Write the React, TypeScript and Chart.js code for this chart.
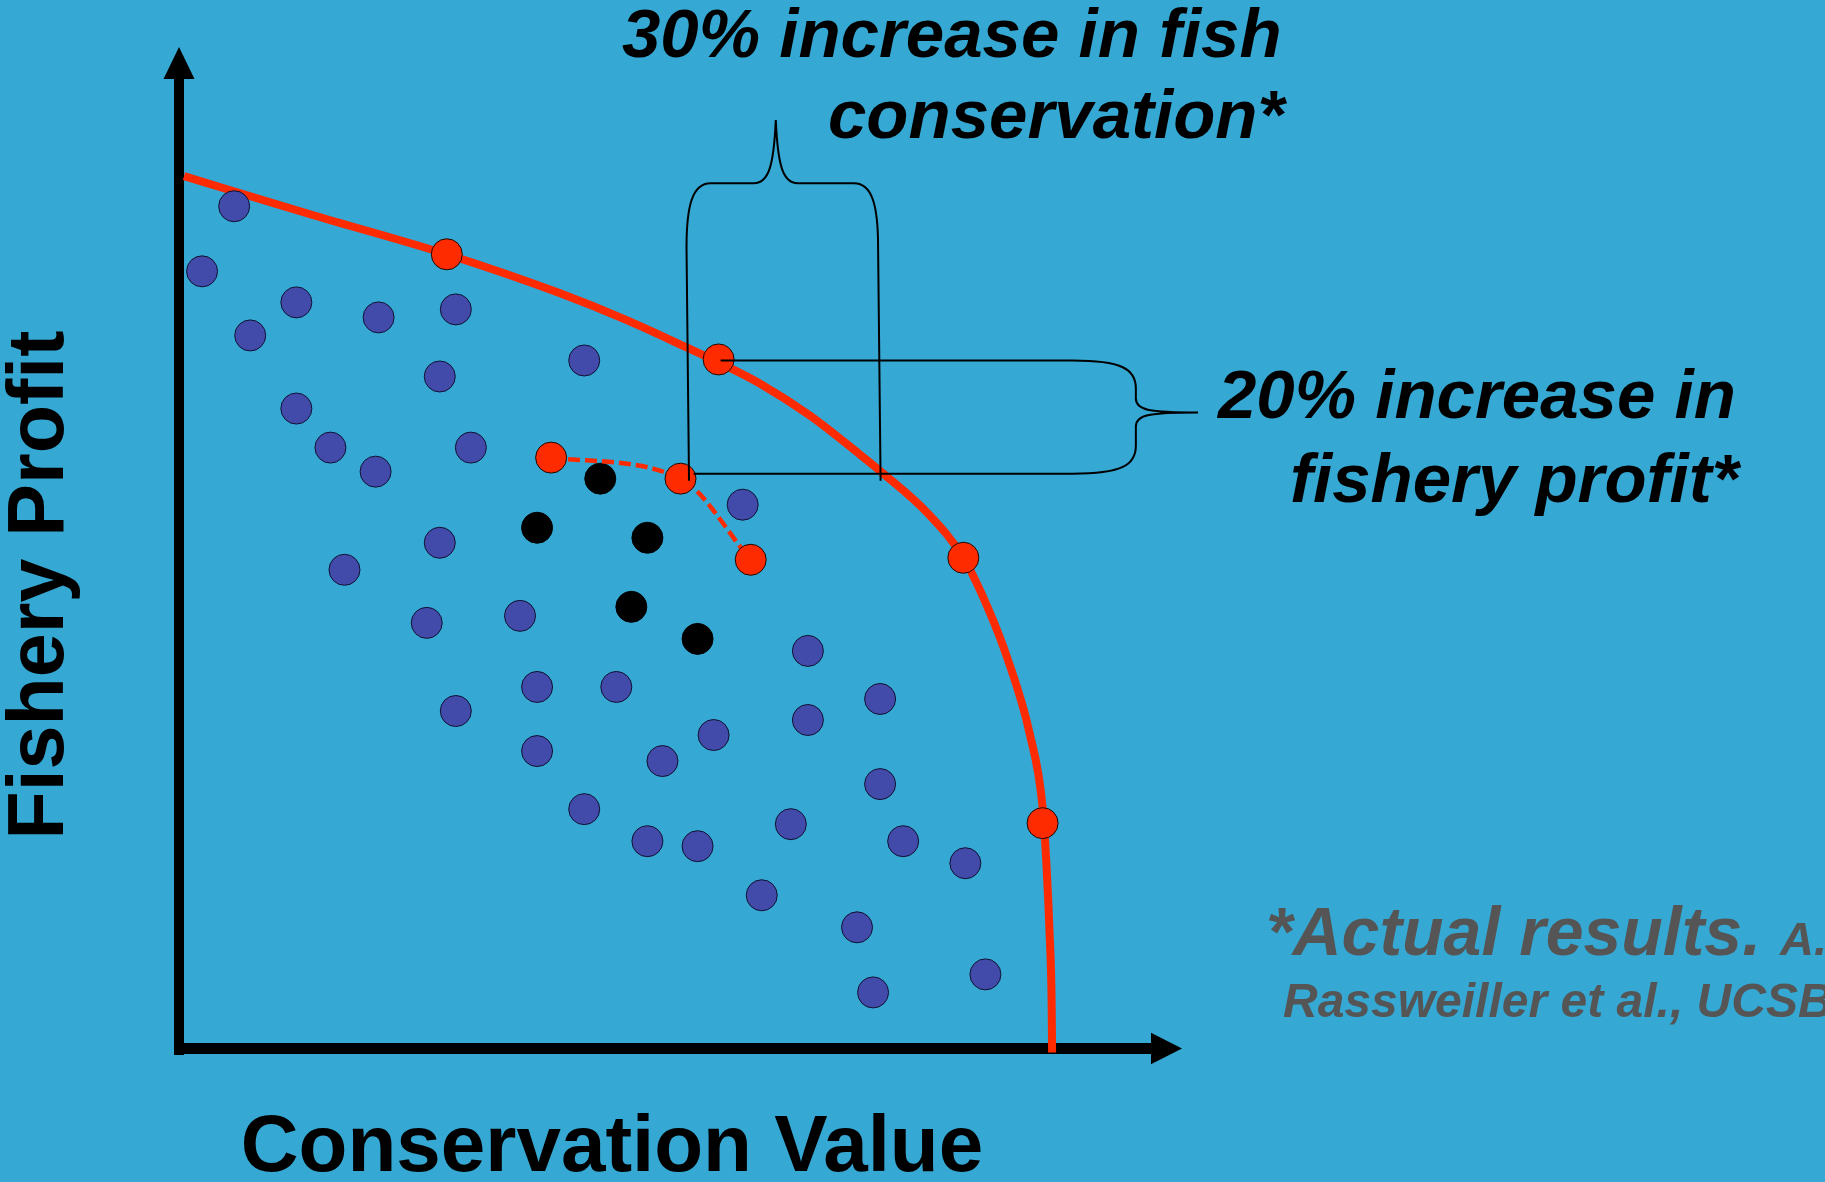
import React, { useEffect, useRef } from "react";
import { Chart, registerables } from "chart.js";

Chart.register(...registerables);

const W = 1825;
const H = 1182;
const BG = "#35a8d4";
const RED = "#ff2b00";
const BLUE = "#434baa";

// Data units: both axes run 0..100 (arbitrary conservation / profit units)
const frontierX = [0.5, 13.4, 26.7, 38.0, 44.7, 50.6, 53.8, 57.9, 62.9, 67.9, 70.1, 74.6, 78.2, 80.6, 82.65, 84.8, 86.1, 86.5, 86.8, 87.0, 87.05];
const frontierY = [87.1, 83.2, 79.3, 75.4, 72.7, 70.0, 68.5, 66.4, 63.2, 59.3, 57.5, 53.5, 49.0, 44.1, 38.8, 31.5, 24.1, 18.1, 11.5, 4.8, -0.4];

const frontierPickX = [26.7, 53.8, 78.2, 86.1];
const frontierPickY = [79.3, 68.8, 49.0, 22.5];

const localX = [37.1, 50.0, 57.0];
const localY = [59.0, 56.9, 48.8];

const currentX = [42.0, 35.7, 46.7, 45.1, 51.7];
const currentY = [56.9, 52.0, 51.0, 44.1, 40.9];

const optionX = [5.5, 2.3, 7.1, 11.7, 19.9, 27.6, 26.0, 40.4, 11.7, 15.1, 19.6, 29.1, 26.0, 16.5, 24.7, 34.0, 35.7, 43.6, 27.6, 35.7, 48.2, 53.3, 62.7, 62.7, 69.9, 69.9, 56.2, 40.4, 46.7, 51.7, 61.0, 72.2, 78.4, 58.1, 67.6, 69.2, 80.4];
const optionY = [84.1, 77.6, 71.2, 74.5, 73.0, 73.8, 67.1, 68.7, 63.9, 60.0, 57.6, 60.0, 50.5, 47.8, 42.5, 43.2, 36.1, 36.1, 33.7, 29.7, 28.7, 31.3, 39.7, 32.8, 34.9, 26.4, 54.3, 23.9, 20.7, 20.2, 22.4, 20.7, 18.5, 15.3, 12.1, 5.6, 7.4];

const xTitle = "Conservation Value";
const yTitle = "Fishery Profit";
const consNote = ["30% increase in fish", "conservation*"];
const profitNote = ["20% increase in", "fishery profit*"];
const sourceNote = ["*Actual results.", "A.", "Rassweiller et al., UCSB"];

const zip = (xs: number[], ys: number[]) => xs.map((x, i) => ({ x, y: ys[i] }));

const FONT = '"Liberation Sans", Arial, sans-serif';

const axesPlugin = {
  id: "axesArrows",
  beforeDatasetsDraw(chart: any) {
    const ctx = chart.ctx as CanvasRenderingContext2D;
    const xs = chart.scales.x;
    const ys = chart.scales.y;
    const ox = xs.getPixelForValue(0);
    const oy = ys.getPixelForValue(0);
    const top = ys.getPixelForValue(100);
    const right = xs.getPixelForValue(100);
    ctx.save();
    ctx.fillStyle = "#000";
    // y axis
    ctx.fillRect(ox - 5, top + 31, 10, oy + 6.5 - (top + 31));
    ctx.beginPath();
    ctx.moveTo(ox, top);
    ctx.lineTo(ox + 15.5, top + 32);
    ctx.lineTo(ox - 15.5, top + 32);
    ctx.closePath();
    ctx.fill();
    // x axis
    ctx.fillRect(ox - 5, oy - 5.5, right - 30 - (ox - 5), 11);
    ctx.beginPath();
    ctx.moveTo(right, oy);
    ctx.lineTo(right - 31, oy - 15.8);
    ctx.lineTo(right - 31, oy + 15.8);
    ctx.closePath();
    ctx.fill();
    ctx.restore();
  },
};

const notesPlugin = {
  id: "notes",
  afterDatasetsDraw(chart: any) {
    const ctx = chart.ctx as CanvasRenderingContext2D;
    const xs = chart.scales.x;
    const ys = chart.scales.y;
    const px = (v: number) => xs.getPixelForValue(v);
    const py = (v: number) => ys.getPixelForValue(v);
    ctx.save();
    ctx.strokeStyle = "#000";
    ctx.lineWidth = 2;
    ctx.lineJoin = "round";

    // conservation bracket
    const L = px(50.6);
    const R = px(69.7);
    const vBot = py(56.7);
    const vTop = py(80.0);
    const hY = py(86.4);
    const pkX = px(59.5);
    const pkY = py(92.7);
    ctx.beginPath();
    ctx.moveTo(L + 2.5, vBot);
    ctx.lineTo(L, vTop);
    ctx.bezierCurveTo(L, hY + 22, L + 6, hY, L + 24, hY);
    ctx.lineTo(pkX - 22, hY);
    ctx.bezierCurveTo(pkX - 7, hY, pkX - 2, hY - 18, pkX, pkY);
    ctx.moveTo(pkX, pkY);
    ctx.bezierCurveTo(pkX + 2, hY - 18, pkX + 7, hY, pkX + 22, hY);
    ctx.lineTo(R - 24, hY);
    ctx.bezierCurveTo(R - 6, hY, R, hY + 22, R, vTop);
    ctx.lineTo(R + 2.5, vBot);
    ctx.stroke();

    // profit brace
    const x0 = px(frontierPickX[1]) + 2;
    const yTop = py(68.7);
    const x1 = px(89.1);
    const xm = px(95.4);
    const xt = px(101.6);
    const yt = py(63.5);
    const yBot = py(57.4);
    const xb0 = px(51.3);
    ctx.beginPath();
    ctx.moveTo(x0, yTop);
    ctx.lineTo(x1, yTop);
    ctx.bezierCurveTo(x1 + 48, yTop, xm, yTop + 8, xm, yTop + 28);
    ctx.lineTo(xm, yt - 14);
    ctx.bezierCurveTo(xm, yt - 2, xm + 14, yt, xt, yt);
    ctx.moveTo(xt, yt);
    ctx.bezierCurveTo(xm + 14, yt, xm, yt + 2, xm, yt + 14);
    ctx.lineTo(xm, yBot - 28);
    ctx.bezierCurveTo(xm, yBot - 8, x1 + 48, yBot, x1, yBot);
    ctx.lineTo(xb0, yBot);
    ctx.stroke();
    ctx.restore();
  },
  afterDraw(chart: any) {
    const ctx = chart.ctx as CanvasRenderingContext2D;
    ctx.save();
    ctx.textBaseline = "alphabetic";
    ctx.textAlign = "left";
    ctx.fillStyle = "#000";

    ctx.font = `italic bold 69px ${FONT}`;
    ctx.fillText(consNote[0], 622, 57);
    ctx.fillText(consNote[1], 828, 138);
    ctx.fillText(profitNote[0], 1218, 418);
    ctx.fillText(profitNote[1], 1290, 502);

    ctx.fillStyle = "#555555";
    ctx.font = `italic bold 68px ${FONT}`;
    ctx.fillText(sourceNote[0], 1266, 955);
    const w = ctx.measureText(sourceNote[0] + " ").width;
    ctx.font = `italic bold 47px ${FONT}`;
    ctx.fillText(sourceNote[1], 1266 + w, 955);
    ctx.font = `italic bold 48px ${FONT}`;
    ctx.fillText(sourceNote[2], 1283, 1017);

    ctx.fillStyle = "#000";
    ctx.font = `bold 80px ${FONT}`;
    ctx.textAlign = "center";
    ctx.fillText(xTitle, 612, 1171);

    ctx.translate(63, 585);
    ctx.rotate(-Math.PI / 2);
    ctx.font = `bold 79px ${FONT}`;
    ctx.fillText(yTitle, 0, 0);
    ctx.restore();
  },
};

export default function App() {
  const ref = useRef<HTMLCanvasElement>(null);
  useEffect(() => {
    document.body.style.margin = "0";
    document.body.style.overflow = "hidden";
    const chart = new Chart(ref.current as HTMLCanvasElement, {
      type: "scatter",
      data: {
        datasets: [
          {
            type: "scatter",
            label: "frontier picks",
            data: zip(frontierPickX, frontierPickY),
            backgroundColor: RED,
            borderColor: "#1a0800",
            borderWidth: 1,
            pointRadius: 15.5,
            order: 0,
            clip: false,
          } as any,
          {
            type: "scatter",
            label: "local picks",
            data: zip(localX, localY),
            backgroundColor: RED,
            borderColor: "#1a0800",
            borderWidth: 1,
            pointRadius: 15.5,
            order: 1,
            clip: false,
          } as any,
          {
            type: "line",
            label: "local frontier",
            data: zip(localX, localY),
            borderColor: RED,
            borderWidth: 4.5,
            borderDash: [12, 5],
            pointRadius: 0,
            fill: false,
            cubicInterpolationMode: "monotone",
            order: 2,
            clip: false,
          } as any,
          {
            type: "scatter",
            label: "current",
            data: zip(currentX, currentY),
            backgroundColor: "#000",
            borderColor: "#000",
            borderWidth: 1,
            pointRadius: 15.5,
            order: 3,
            clip: false,
          } as any,
          {
            type: "scatter",
            label: "options",
            data: zip(optionX, optionY),
            backgroundColor: BLUE,
            borderColor: "#101030",
            borderWidth: 1,
            pointRadius: 15.5,
            order: 4,
            clip: false,
          } as any,
          {
            type: "line",
            label: "frontier",
            data: zip(frontierX, frontierY),
            borderColor: RED,
            borderWidth: 8,
            pointRadius: 0,
            fill: false,
            cubicInterpolationMode: "monotone",
            order: 5,
            clip: false,
          } as any,
        ],
      },
      options: {
        responsive: false,
        animation: false,
        devicePixelRatio: 1,
        events: [],
        layout: { padding: { left: 179, top: 47, right: W - 1182, bottom: H - 1048.5 } },
        scales: {
          x: { type: "linear", min: 0, max: 100, display: false },
          y: { type: "linear", min: 0, max: 100, display: false },
        },
        plugins: { legend: { display: false }, tooltip: { enabled: false } },
      },
      plugins: [axesPlugin, notesPlugin],
    } as any);
    return () => chart.destroy();
  }, []);
  return (
    <div style={{ position: "absolute", left: 0, top: 0, width: W, height: H, background: BG, overflow: "hidden" }}>
      <canvas ref={ref} width={W} height={H} style={{ width: W, height: H, display: "block" }} />
    </div>
  );
}
